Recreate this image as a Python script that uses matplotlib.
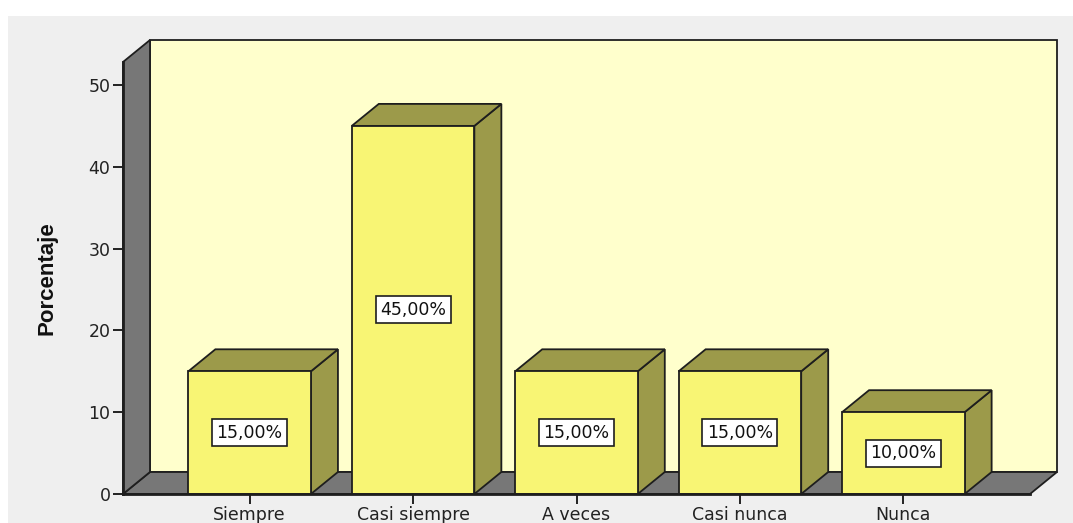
import matplotlib.pyplot as plt
from matplotlib.patches import Polygon, Rectangle

categorias = ['Siempre', 'Casi siempre', 'A veces', 'Casi nunca', 'Nunca']
porcentajes = [15.0, 45.0, 15.0, 15.0, 10.0]
etiquetas = ['15,00%', '45,00%', '15,00%', '15,00%', '10,00%']

W, H = 1073, 523
fig = plt.figure(figsize=(W / 100, H / 100), dpi=100)
fig.patch.set_facecolor('#efefef')
# thin white margin on top and left
fig.patches.append(Rectangle((0, 1 - 16 / H), 1, 16 / H, transform=fig.transFigure,
                             facecolor='white', edgecolor='none', zorder=-5))
fig.patches.append(Rectangle((0, 0), 8 / W, 1, transform=fig.transFigure,
                             facecolor='white', edgecolor='none', zorder=-5))

x_left, x_right, y_bot, y_top = 123, 1030, 494, 62
ax = fig.add_axes([x_left / W, (H - y_bot) / H, (x_right - x_left) / W, (y_bot - y_top) / H])
ax.set_facecolor('none')

xmin, xmax = -0.775, 4.775
px_y = 8.18
ymax = (y_bot - y_top) / px_y
ax.set_xlim(xmin, xmax)
ax.set_ylim(0, ymax)

# depth of the 3D box, in data units
DX = 27 / ((x_right - x_left) / (xmax - xmin))
DY = 22 / px_y

edge = '#1e1e1e'
gris = '#777777'
pared = '#ffffcc'
frente = '#f8f574'
lado = '#9c9a4a'
fuente = 'DejaVu Sans'

def poly(pts, fc, z):
    ax.add_patch(Polygon(pts, closed=True, facecolor=fc, edgecolor=edge,
                         linewidth=1.3, joinstyle='miter', clip_on=False, zorder=z))

# back wall, floor and left wall
poly([(xmin + DX, DY), (xmax + DX, DY), (xmax + DX, ymax + DY), (xmin + DX, ymax + DY)], pared, 1)
poly([(xmin, 0), (xmax, 0), (xmax + DX, DY), (xmin + DX, DY)], gris, 2)
poly([(xmin, 0), (xmin, ymax), (xmin + DX, ymax + DY), (xmin + DX, DY)], gris, 2)

w = 0.75
for i, (v, txt) in enumerate(zip(porcentajes, etiquetas)):
    l, r = i - w / 2, i + w / 2
    poly([(r, 0), (r + DX, DY), (r + DX, v + DY), (r, v)], lado, 3)
    poly([(l, v), (r, v), (r + DX, v + DY), (l + DX, v + DY)], lado, 3)
    poly([(l, 0), (r, 0), (r, v), (l, v)], frente, 4)
    ax.text(i, v / 2, txt, ha='center', va='center', fontsize=12.5,
            family=fuente, color='#111111', zorder=5,
            bbox=dict(boxstyle='square,pad=0.26', facecolor='white',
                      edgecolor=edge, linewidth=1.2))

for s in ['top', 'right']:
    ax.spines[s].set_visible(False)
for s in ['left', 'bottom']:
    ax.spines[s].set_color(edge)
    ax.spines[s].set_linewidth(2.0)
    ax.spines[s].set_zorder(6)

ax.set_yticks(range(0, 51, 10))
ax.set_xticks(range(len(categorias)))
ax.set_xticklabels(categorias)
ax.tick_params(axis='both', length=7, width=1.4, color='#222222',
               labelsize=12.5, labelcolor='#222222')
ax.tick_params(axis='x', pad=2)
ax.tick_params(axis='y', pad=2)
for lab in ax.get_xticklabels() + ax.get_yticklabels():
    lab.set_family(fuente)

ax.set_ylabel('Porcentaje', fontsize=16, fontweight='bold',
              family='Liberation Sans', color='#111111', labelpad=22)

fig.savefig('out.png', dpi=100, facecolor=fig.get_facecolor())
